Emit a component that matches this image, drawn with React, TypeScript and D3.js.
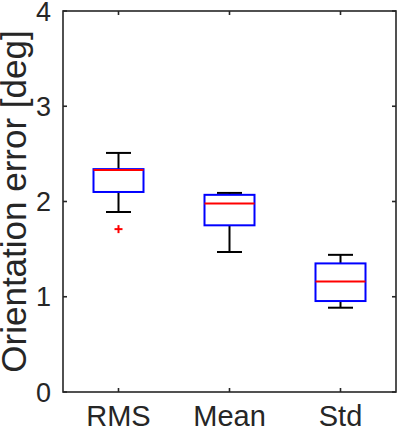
import React from "react";
import * as d3 from "d3";

const categories = ["RMS", "Mean", "Std"];
const lowerWhisker = [1.89, 1.47, 0.885];
const q1 = [2.1, 1.75, 0.955];
const medians = [2.33, 1.98, 1.16];
const q3 = [2.34, 2.07, 1.35];
const upperWhisker = [2.51, 2.09, 1.44];
const outliers = [[1.71], [], []];
const yTicks = [0, 1, 2, 3, 4];

const width = 399;
const height = 429;
const marginLeft = 63;
const marginRight = 3;
const marginTop = 11;
const marginBottom = 37;
const axisColor = "#262626";
const font = "'Liberation Sans', Arial, Helvetica, sans-serif";

export default function App() {
  const x = d3
    .scaleLinear()
    .domain([0.5, categories.length + 0.5])
    .range([marginLeft, width - marginRight]);
  const y = d3
    .scaleLinear()
    .domain([0, 4])
    .range([height - marginBottom, marginTop]);

  const boxW = 50;
  const capW = 25;
  const tickLen = 4;
  const x0 = x.range()[0];
  const x1 = x.range()[1];
  const y0 = y.range()[0];
  const y1 = y.range()[1];

  return (
    <svg
      width={width}
      height={height}
      style={{ position: "fixed", left: 0, top: 0, background: "#fff" }}
      fontFamily={font}
    >
      {categories.map((c, i) => {
        const cx = x(i + 1);
        return (
          <g key={c}>
            <line x1={cx} x2={cx} y1={y(upperWhisker[i])} y2={y(q3[i])} stroke="#000" strokeWidth={2} />
            <line x1={cx} x2={cx} y1={y(q1[i])} y2={y(lowerWhisker[i])} stroke="#000" strokeWidth={2} />
            <line x1={cx - capW / 2} x2={cx + capW / 2} y1={y(upperWhisker[i])} y2={y(upperWhisker[i])} stroke="#000" strokeWidth={2} />
            <line x1={cx - capW / 2} x2={cx + capW / 2} y1={y(lowerWhisker[i])} y2={y(lowerWhisker[i])} stroke="#000" strokeWidth={2} />
            <rect
              x={cx - boxW / 2}
              y={y(q3[i])}
              width={boxW}
              height={y(q1[i]) - y(q3[i])}
              fill="none"
              stroke="#0000ff"
              strokeWidth={2}
            />
            <line x1={cx - boxW / 2} x2={cx + boxW / 2} y1={y(medians[i])} y2={y(medians[i])} stroke="#ff0000" strokeWidth={2} />
            {outliers[i].map((o, j) => (
              <g key={j} stroke="#ff0000" strokeWidth={2}>
                <line x1={cx - 4} x2={cx + 4} y1={y(o)} y2={y(o)} />
                <line x1={cx} x2={cx} y1={y(o) - 4} y2={y(o) + 4} />
              </g>
            ))}
          </g>
        );
      })}

      {/* axes box */}
      <rect x={x0} y={y1} width={x1 - x0} height={y0 - y1} fill="none" stroke={axisColor} strokeWidth={1.6} />

      {yTicks.map((t) => (
        <g key={t}>
          <line x1={x0} x2={x0 + tickLen} y1={y(t)} y2={y(t)} stroke={axisColor} strokeWidth={1.6} />
          <line x1={x1} x2={x1 - tickLen} y1={y(t)} y2={y(t)} stroke={axisColor} strokeWidth={1.6} />
          <text x={x0 - 12} y={y(t)} dy="0.36em" textAnchor="end" fontSize={27} fill={axisColor}>
            {t}
          </text>
        </g>
      ))}

      {categories.map((c, i) => (
        <g key={c}>
          <line x1={x(i + 1)} x2={x(i + 1)} y1={y0} y2={y0 - tickLen} stroke={axisColor} strokeWidth={1.6} />
          <line x1={x(i + 1)} x2={x(i + 1)} y1={y1} y2={y1 + tickLen} stroke={axisColor} strokeWidth={1.6} />
          <text x={x(i + 1)} y={426} textAnchor="middle" fontSize={29} fill={axisColor}>
            {c}
          </text>
        </g>
      ))}

      <text
        transform={`translate(26,${(y0 + y1) / 2}) rotate(-90)`}
        textAnchor="middle"
        fontSize={35}
        fill={axisColor}
      >
        Orientation error [deg]
      </text>
    </svg>
  );
}
